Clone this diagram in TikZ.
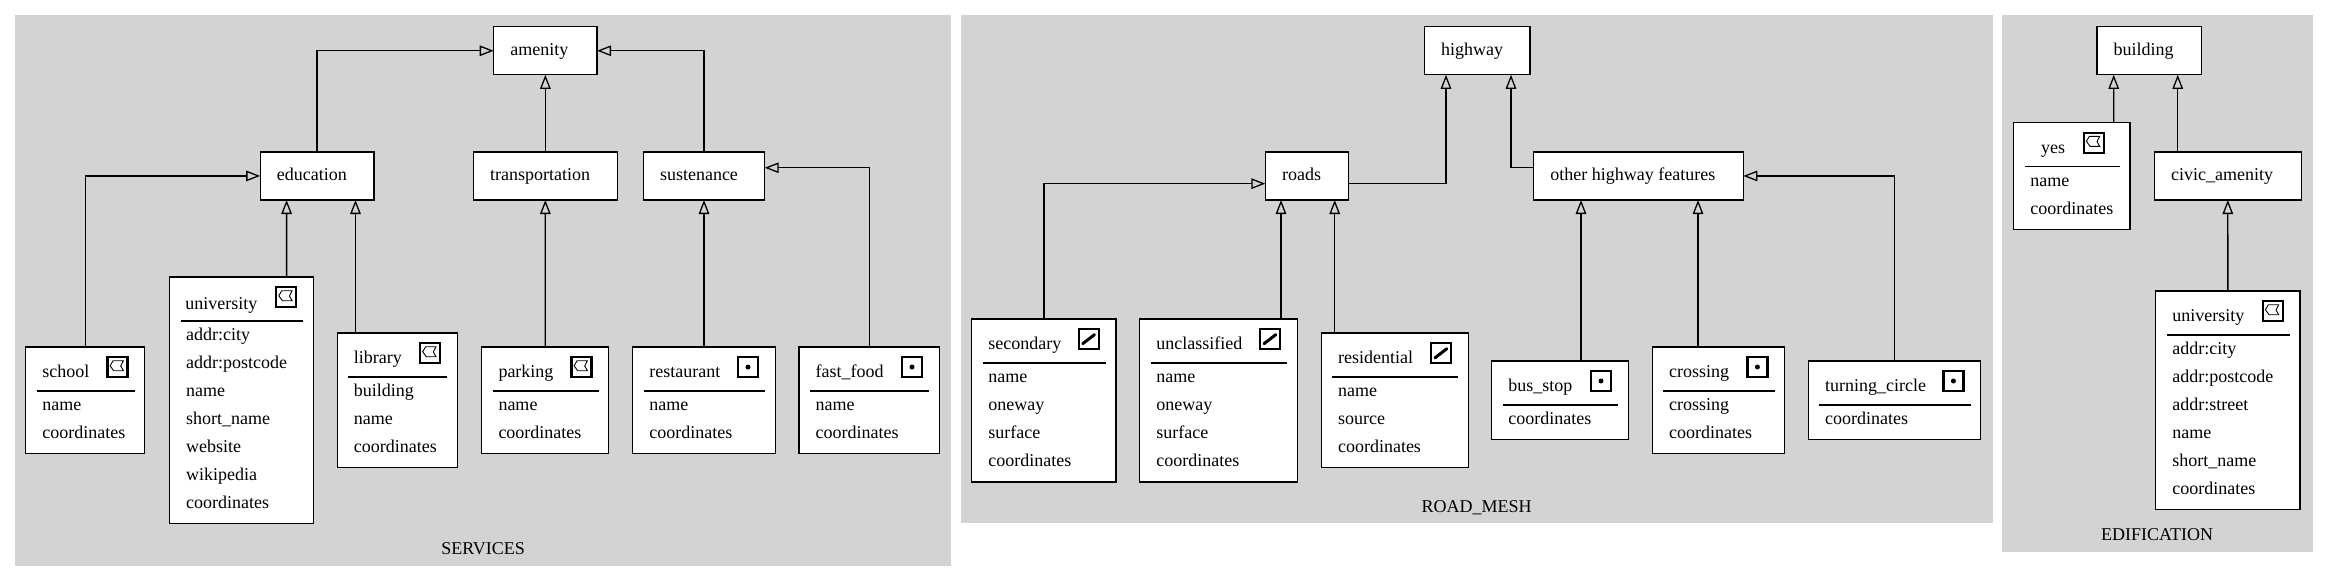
\documentclass[tikz,border=0pt]{standalone}
\usepackage{fontspec}
\setmainfont{Liberation Serif}
\usetikzlibrary{arrows.meta}

\definecolor{clusterbg}{HTML}{D3D3D3}
\tikzset{
	cluster/.style = {fill = clusterbg, inner sep = 0, outer sep = 0},
	box/.style = {draw, fill = white, line width = 1.3pt, inner sep = 0, outer sep = 0},
	iconbox/.style = {draw, line width = 2.2pt, minimum size = 20pt, inner sep = 0, outer sep = 0, anchor = north east},
	txt/.style = {font = \fontsize{18}{20}\selectfont, inner sep = 0, anchor = base west},
	clusterlabel/.style = {font = \fontsize{18}{20}\selectfont, inner sep = 0, anchor = base},
	sepline/.style = {line width = 1.2pt},
	isa/.style = {-{Triangle[open, length = 14pt, width = 10.5pt]}, line width = 1.3pt}
}

\newcommand{\titlegap}{16.5}
\newcommand{\titledrop}{30.7}
\newcommand{\icongap}{17.3}
\newcommand{\icondrop}{10}
\newcommand{\iconpoly}[1]{\draw[line width = 0.9pt] ([shift = {(-4.3pt,6.3pt)}]#1.center) -- ([shift = {(6pt,6.3pt)}]#1.center) -- ([shift = {(3.3pt,1pt)}]#1.center) -- ([shift = {(6pt,-3.7pt)}]#1.center) -- ([shift = {(-3.7pt,-3.7pt)}]#1.center) -- ([shift = {(-7.3pt,1.3pt)}]#1.center) -- cycle;}
\newcommand{\iconline}[1]{\draw[line width = 3pt, line cap = round] ([shift = {(-6pt,-4.8pt)}]#1.center) -- ([shift = {(5.8pt,4.3pt)}]#1.center);}
\newcommand{\iconpoint}[1]{\fill (#1.center) circle (2.5pt);}
% id, centre, width, height, text
\newcommand{\headbox}[5]{
	\node[box, minimum width = #3pt, minimum height = #4pt] (#1) at (#2) {};
	\node[txt] (#1 title) at ([xshift = 16.5pt, yshift = -28.8pt]#1.north west) {#5};
}
% id, centre, width, height, title, icon, attributes
\newcommand{\classbox}[7]{
	\node[box, minimum width = #3pt, minimum height = #4pt] (#1) at (#2) {};
	\node[txt] (#1 title) at ([xshift = \titlegap pt, yshift = -\titledrop pt]#1.north west) {#5};
	\node[iconbox] (#1 icon) at ([xshift = -\icongap pt, yshift = -\icondrop pt]#1.north east) {};
	\csname icon#6\endcsname{#1 icon}
	\draw[sepline] ([xshift = 11pt, yshift = -44pt]#1.north west) -- ([xshift = -10pt, yshift = -44pt]#1.north east);
	\foreach \attr [count = \i] in {#7} {
		\pgfmathsetmacro\rowy{63.5 + 28*(\i - 1)}
		\node[txt] (#1 attr \i) at ([xshift = 16.5pt, yshift = -\rowy pt]#1.north west) {\attr};
	}
}

\begin{document}
\begin{tikzpicture}[x = 1pt, y = -1pt]
	\useasboundingbox (0,0) rectangle (2328,581);

	% the three groups
	\node[cluster, minimum width = 935.7pt, minimum height = 550.8pt] (services) at (483.15,290.2) {};
	\node[cluster, minimum width = 1032pt, minimum height = 508.5pt] (roadmesh) at (1476.7,269.05) {};
	\node[cluster, minimum width = 310.7pt, minimum height = 536.7pt] (edification) at (2157.35,283.15) {};
	\node[clusterlabel] (services label) at (483.15,554.4) {SERVICES};
	\node[clusterlabel] (roadmesh label) at (1476.7,512.2) {ROAD\_MESH};
	\node[clusterlabel] (edification label) at (2157,540.7) {EDIFICATION};

	% services
	\headbox{amenity}{545.35,50.75}{103.3}{48.1}{amenity}
	\headbox{education}{317.05,175.95}{113.7}{48.1}{education}
	\headbox{transportation}{545.35,175.95}{143.9}{48.1}{transportation}
	\headbox{sustenance}{704,175.95}{121.4}{48.1}{sustenance}
	\classbox{school}{85.2,400.35}{119}{106.7}{school}{poly}{name,coordinates}
	{\renewcommand{\titledrop}{32.2}\renewcommand{\titlegap}{15.7}
	\classbox{university}{241.45,400.35}{143.9}{246.7}{university}{poly}{addr:city,addr:postcode,name,short\_name,website,wikipedia,coordinates}}
	\classbox{library}{397.25,400.4}{120.1}{134.8}{library}{poly}{building,name,coordinates}
	\classbox{parking}{545.25,400.35}{126.9}{106.7}{parking}{poly}{name,coordinates}
	\classbox{restaurant}{704,400.35}{142.6}{106.7}{restaurant}{point}{name,coordinates}
	\classbox{fastfood}{869.15,400.35}{140.3}{106.7}{fast\_food}{point}{name,coordinates}

	\draw[isa] (education.north) |- (amenity.west);
	\draw[isa] (transportation.north) -- (amenity.south);
	\draw[isa] (sustenance.north) |- (amenity.east);
	\draw[isa] (school.north) |- (education.west);
	\draw[isa] ([xshift = 45.15pt]university.north) -- ([xshift = -30.45pt]education.south);
	\draw[isa] ([xshift = -41.75pt]library.north) -- ([xshift = 38.45pt]education.south);
	\draw[isa] (parking.north) -- (transportation.south);
	\draw[isa] (restaurant.north) -- (sustenance.south);
	\draw[isa] (fastfood.north) |- ([yshift = 8.2pt]sustenance.east);

	% road mesh
	\headbox{highway}{1477.15,50.75}{105.7}{48.1}{highway}
	\headbox{roads}{1306.8,175.95}{83}{48.1}{roads}
	\headbox{other}{1638.5,175.95}{209.6}{48.1}{other highway features}
	\classbox{secondary}{1043.85,400.4}{144.3}{163}{secondary}{line}{name,oneway,surface,coordinates}
	\classbox{unclassified}{1218.5,400.4}{157.6}{163}{unclassified}{line}{name,oneway,surface,coordinates}
	\classbox{residential}{1394.8,400.4}{147}{134.8}{residential}{line}{name,source,coordinates}
	\classbox{busstop}{1560,400.3}{136.6}{78.6}{bus\_stop}{point}{coordinates}
	\classbox{crossing}{1718.5,400.35}{132.4}{106.7}{crossing}{point}{crossing,coordinates}
	\classbox{turningcircle}{1894.5,400.3}{172.4}{78.6}{turning\_circle}{point}{coordinates}

	\draw[isa] ([yshift = -7.7pt]roads.east) -| ([xshift = -31.15pt]highway.south);
	\draw[isa] ([yshift = 8.2pt]other.west) -| ([xshift = 33.85pt]highway.south);
	\draw[isa] (secondary.north) |- ([yshift = -7.7pt]roads.west);
	\draw[isa] ([xshift = 62.5pt]unclassified.north) -- ([xshift = -25.8pt]roads.south);
	\draw[isa] ([xshift = -60.1pt]residential.north) -- ([xshift = 27.9pt]roads.south);
	\draw[isa] ([xshift = 21pt]busstop.north) -- ([xshift = -57.5pt]other.south);
	\draw[isa] ([xshift = -20.5pt]crossing.north) -- ([xshift = 59.5pt]other.south);
	\draw[isa] (turningcircle.north) |- (other.east);

	% edification
	\headbox{building}{2149.15,50.75}{104.3}{48.1}{building}
	\headbox{civicamenity}{2227.8,175.95}{147}{48.1}{civic\_amenity}
	{\renewcommand{\titlegap}{27.3}\renewcommand{\icongap}{26.3}
	\classbox{yes}{2071.85,175.95}{116.3}{106.7}{yes}{poly}{name,coordinates}}
	\classbox{universitybis}{2227.85,400.3}{144.3}{218.6}{university}{poly}{addr:city,addr:postcode,addr:street,name,short\_name,coordinates}

	\draw[isa] ([xshift = 41.85pt]yes.north) -- ([xshift = -35.45pt]building.south);
	\draw[isa] ([xshift = -50.1pt]civicamenity.north) -- ([xshift = 28.55pt]building.south);
	\draw[isa] (universitybis.north) -- (civicamenity.south);
\end{tikzpicture}
\end{document}
